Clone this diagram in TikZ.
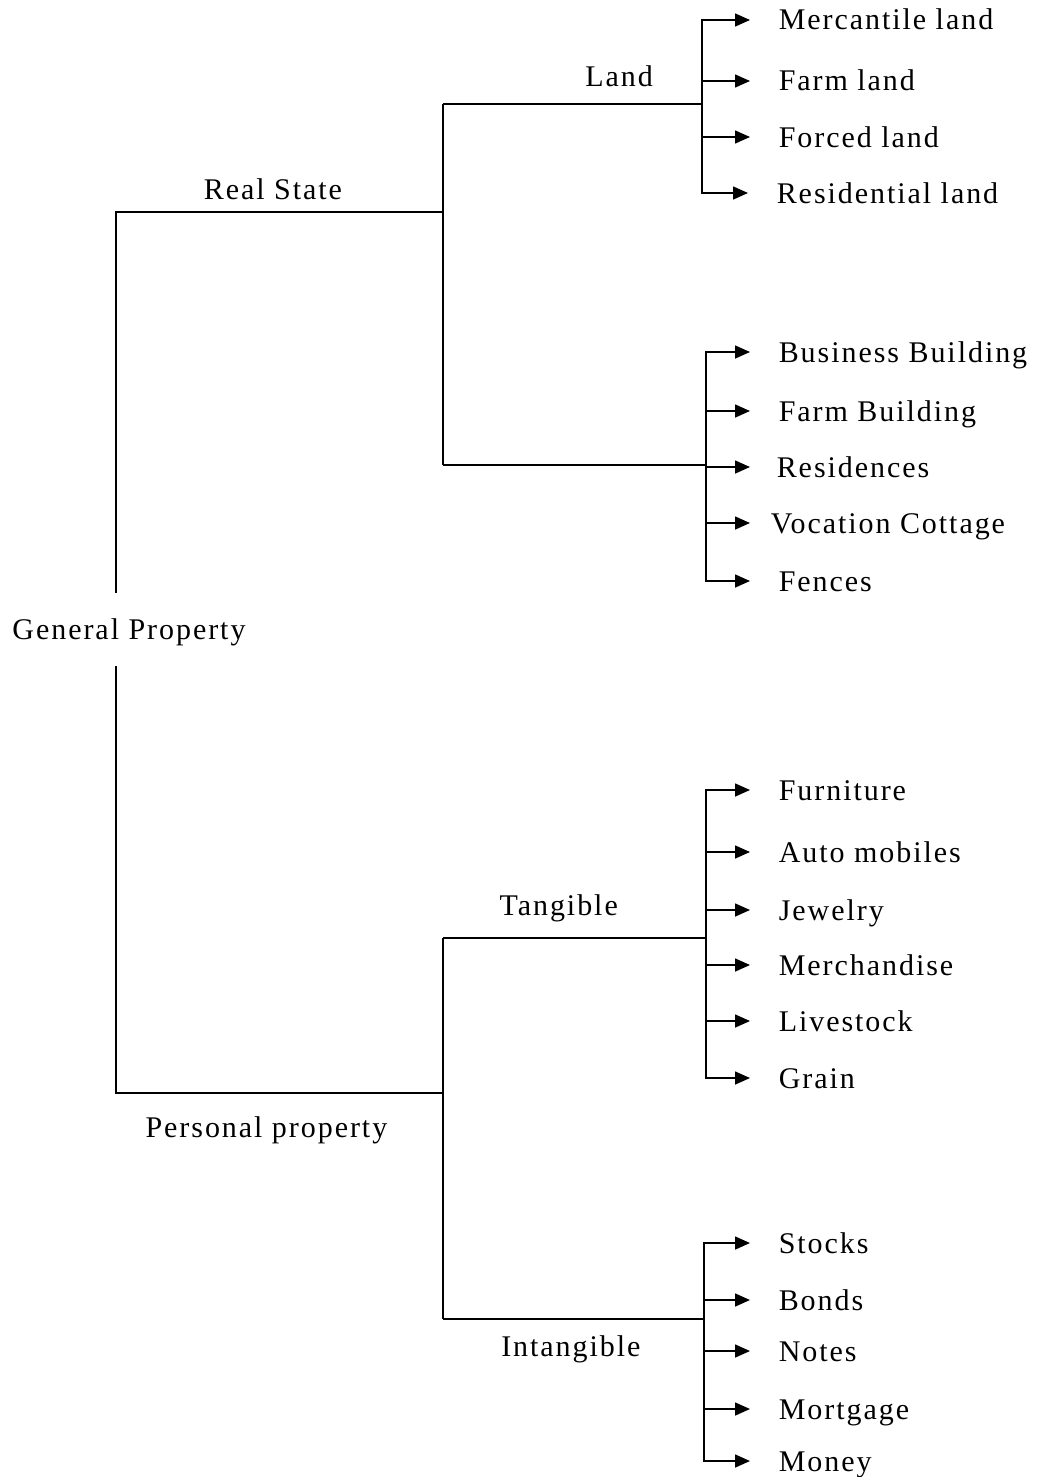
\documentclass[tikz,border=0pt]{standalone}
\usepackage{fontspec}
\setmainfont{Liberation Serif}[LetterSpace=6.5]
\usetikzlibrary{arrows.meta,positioning}

\begin{document}
\begin{tikzpicture}[x=1pt,y=-1pt,>={Triangle[length=15pt,width=13pt]},line width=1.6pt,
    every node/.style={font=\fontsize{30}{36}\selectfont, inner sep=0pt, text height=20pt, text depth=0pt},
    leaf/.style={anchor=west},
    ray/.style={->, shorten >=28pt},
    fork/.style={<->, shorten <=28pt, shorten >=28pt},]
    \useasboundingbox (0,0) rectangle (1040,1477);
    % create the junctions
    \coordinate (rs) at (116,212);
    \coordinate (rsj) at (443,212);
    \coordinate (ps) at (116,1093);
    \coordinate (psj) at (443,1093);
    \coordinate (landj) at (443,104);
    \coordinate (bldj) at (443,465);
    \coordinate (tanj) at (443,938);
    \coordinate (intj) at (443,1319);
    \coordinate (lbar) at (702,0);
    \coordinate (bbar) at (706,0);
    \coordinate (tbar) at (706,0);
    \coordinate (ibar) at (704,0);
    % create the nodes
    \node (root) [inner ysep=26pt] at (129,629.5) {General Property};
    \node (l1) [leaf] at (778,20) {Mercantile land};
    \node (l2) [leaf] at (778,81) {Farm land};
    \node (l3) [leaf] at (778,137) {Forced land};
    \node (l4) [leaf] at (776,193) {Residential land};
    \node (b1) [leaf] at (778,352) {Business Building};
    \node (b2) [leaf] at (778,411) {Farm Building};
    \node (b3) [leaf] at (776,467) {Residences};
    \node (b4) [leaf] at (770,523) {Vocation Cottage};
    \node (b5) [leaf] at (778,581) {Fences};
    \node (t1) [leaf] at (778,790) {Furniture};
    \node (t2) [leaf] at (778,852) {Auto mobiles};
    \node (t3) [leaf] at (778,910) {Jewelry};
    \node (t4) [leaf] at (778,965) {Merchandise};
    \node (t5) [leaf] at (778,1021) {Livestock};
    \node (t6) [leaf] at (778,1078) {Grain};
    \node (i1) [leaf] at (778,1243) {Stocks};
    \node (i2) [leaf] at (778,1300) {Bonds};
    \node (i3) [leaf] at (778,1351) {Notes};
    \node (i4) [leaf] at (778,1409) {Mortgage};
    \node (i5) [leaf] at (778,1461) {Money};
    % connect the nodes
    \draw (root.north -| rs) -- (rs) -- node[above=12pt, pos=.48] {Real State} (rsj);
    \draw (root.south -| ps) -- (ps) -- node[below=24pt, pos=.46] {Personal property} (psj);
    \draw (landj) -- (bldj);
    \draw (tanj) -- (intj);
    \draw (landj) -- node[above=17pt, pos=.68] {Land} (landj -| lbar);
    \draw (bldj) -- (bldj -| bbar);
    \draw (tanj) -- node[above=22pt, pos=.44] {Tangible} (tanj -| tbar);
    \draw (intj) -- node[below=17pt, pos=.49] {Intangible} (intj -| ibar);
    % land
    \draw[fork] (l1.west) -- (l1.west -| lbar) -- (l4.west -| lbar) -- (l4.west);
    \draw[ray] (l2.west -| lbar) -- (l2.west);
    \draw[ray] (l3.west -| lbar) -- (l3.west);
    % buildings
    \draw[fork] (b1.west) -- (b1.west -| bbar) -- (b5.west -| bbar) -- (b5.west);
    \draw[ray] (b2.west -| bbar) -- (b2.west);
    \draw[ray, shorten >=26pt] (b3.west -| bbar) -- (b3.west);
    \draw[ray, shorten >=20pt] (b4.west -| bbar) -- (b4.west);
    % tangible
    \draw[fork] (t1.west) -- (t1.west -| tbar) -- (t6.west -| tbar) -- (t6.west);
    \draw[ray] (t2.west -| tbar) -- (t2.west);
    \draw[ray] (t3.west -| tbar) -- (t3.west);
    \draw[ray] (t4.west -| tbar) -- (t4.west);
    \draw[ray] (t5.west -| tbar) -- (t5.west);
    % intangible
    \draw[fork] (i1.west) -- (i1.west -| ibar) -- (i5.west -| ibar) -- (i5.west);
    \draw[ray] (i2.west -| ibar) -- (i2.west);
    \draw[ray] (i3.west -| ibar) -- (i3.west);
    \draw[ray] (i4.west -| ibar) -- (i4.west);
\end{tikzpicture}
\end{document}
